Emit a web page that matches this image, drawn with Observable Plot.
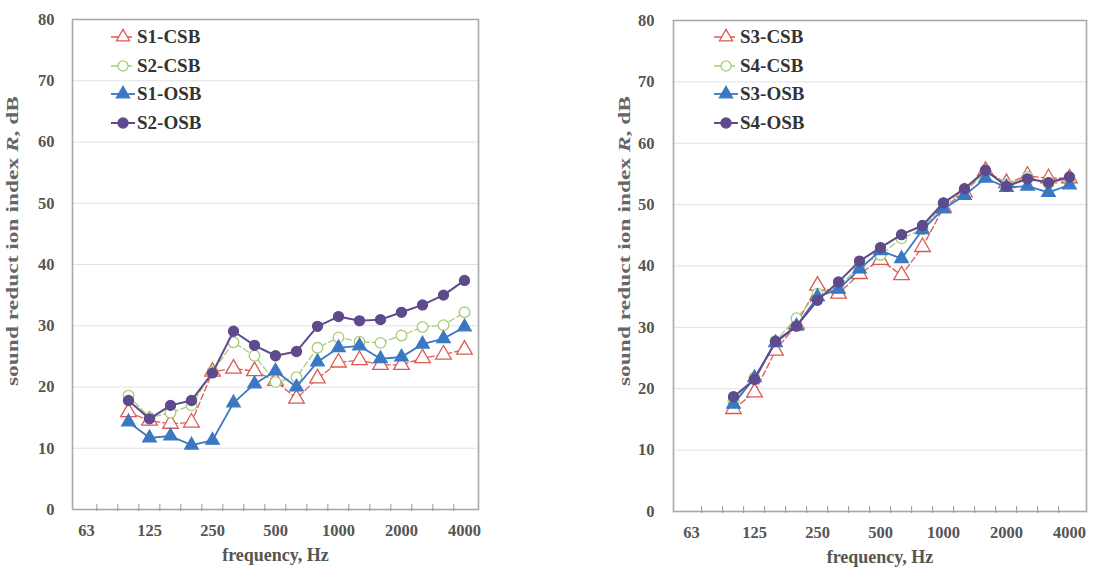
<!DOCTYPE html>
<html>
<head>
<meta charset="utf-8">
<script src="https://cdn.jsdelivr.net/npm/d3@7"></script>
<script src="https://cdn.jsdelivr.net/npm/@observablehq/plot@0.6"></script>
<style>
  html, body { margin: 0; padding: 0; background: #fff; }
  #wrap { position: relative; width: 1096px; height: 570px; overflow: hidden; background: #fff; }
  .panel { position: absolute; top: 0; width: 548px; height: 570px; }
  .legend { position: absolute; font-family: "Liberation Serif", serif; font-weight: bold; font-size: 19px; color: #333; }
  .legend .row { position: absolute; left: 0; height: 28px; display: flex; align-items: center; white-space: nowrap; }
  .legend svg { display: block; margin-right: 1px; }
</style>
</head>
<body>
<div id="wrap">
  <div class="panel" id="left" style="left:0"></div>
  <div class="panel" id="right" style="left:548px"></div>
</div>
<script>
// ---- data ----
const allFreqs = ["63","80","100","125","160","200","250","315","400","500","630","800","1000","1250","1600","2000","2500","3150","4000"];
const tickFreqs = ["63","125","250","500","1000","2000","4000"];
const dataFreqs = ["100","125","160","200","250","315","400","500","630","800","1000","1250","1600","2000","2500","3150","4000"];
const yTicks = [0, 10, 20, 30, 40, 50, 60, 70, 80];

const s1csb = [15.9, 14.5, 14.0, 14.2, 22.5, 23.0, 22.6, 21.0, 18.1, 21.4, 24.0, 24.4, 23.6, 23.6, 24.7, 25.3, 26.1];
const s2csb = [18.6, 15.0, 15.8, 17.0, 22.5, 27.3, 25.1, 20.8, 21.6, 26.4, 28.1, 27.4, 27.2, 28.4, 29.8, 30.1, 32.2];
const s1osb = [14.3, 11.7, 12.0, 10.5, 11.3, 17.4, 20.5, 22.6, 20.0, 24.1, 26.4, 26.7, 24.6, 24.9, 27.0, 27.9, 29.8];
const s2osb = [17.8, 14.8, 17.0, 17.8, 22.3, 29.1, 26.8, 25.1, 25.8, 29.9, 31.5, 30.8, 31.0, 32.2, 33.4, 35.0, 37.4];

const s3csb = [16.7, 19.4, 26.2, 30.5, 36.8, 35.5, 38.7, 41.0, 38.5, 43.1, 49.5, 52.0, 55.5, 53.5, 54.7, 54.3, 54.3];
const s4csb = [18.0, 21.8, 27.8, 31.5, 35.5, 36.5, 40.0, 41.8, 44.5, 46.0, 50.0, 52.3, 55.3, 53.3, 54.5, 53.5, 54.2];
const s3osb = [17.5, 21.8, 27.5, 30.2, 35.0, 36.2, 39.5, 42.5, 41.2, 45.9, 49.3, 51.5, 54.3, 52.8, 53.0, 52.0, 53.2];
const s4osb = [18.7, 21.5, 27.7, 30.2, 34.4, 37.4, 40.8, 43.0, 45.1, 46.6, 50.3, 52.6, 55.6, 53.0, 54.2, 53.6, 54.5];

const leftNames = ["S1-CSB", "S2-CSB", "S1-OSB", "S2-OSB"];
const rightNames = ["S3-CSB", "S4-CSB", "S3-OSB", "S4-OSB"];

// ---- styles ----
const styles = [
  {color: "#dc5a52", symbol: "triangle", open: true, dash: "6,3", width: 1.3, r: 5.8},
  {color: "#a8cc78", symbol: "circle", open: true, dash: "6,3", width: 1.3, r: 5.3},
  {color: "#3b78c2", symbol: "triangle", open: false, dash: null, width: 1.8, r: 5},
  {color: "#5e4a8c", symbol: "circle", open: false, dash: null, width: 2, r: 5}
];

function rows(values) { return dataFreqs.map((f, i) => ({f, v: values[i]})); }

function panel(el, seriesList, names, m, legendPos, yTitleX) {
  const W = 548, H = 570;
  const frameW = W - m.left - m.right;
  const frameH = H - m.top - m.bottom;
  const step = frameW / allFreqs.length;
  const marks = [
    Plot.gridY(yTicks.slice(1, -1), {stroke: "#e2e2e2", strokeOpacity: 1, strokeWidth: 1}),
    Plot.frame({stroke: "#a8a8a8", strokeWidth: 1.6}),
    Plot.tickX(allFreqs.slice(1), {x: d => d, dx: -step / 2, insetTop: frameH - 5, insetBottom: -2, stroke: "#999", strokeWidth: 1}),
    Plot.axisX({ticks: tickFreqs, tickSize: 0, tickPadding: 15, fontSize: 16.5, fontWeight: "bold", fill: "#555", label: null}),
    Plot.axisY({ticks: yTicks, tickSize: 0, tickPadding: m.left === 72 ? 18 : 19, fontSize: 16.5, fontWeight: "bold", fill: "#555", label: null}),
    Plot.text(["frequency, Hz"], {frameAnchor: "bottom", dy: 51, fontSize: 18, fontWeight: "bold", fill: "#555"})
  ];
  seriesList.forEach((vals, i) => {
    const s = styles[i];
    const data = rows(vals);
    marks.push(Plot.line(data, {x: "f", y: "v", stroke: s.color, strokeWidth: s.width, strokeDasharray: s.dash}));
    marks.push(Plot.dot(data, {x: "f", y: "v", symbol: s.symbol, r: s.r,
      fill: s.open ? "white" : s.color, stroke: s.color, strokeWidth: 1.3}));
  });
  const chart = Plot.plot({
    width: W, height: H,
    marginLeft: m.left, marginRight: m.right, marginTop: m.top, marginBottom: m.bottom,
    style: {fontFamily: "'Liberation Serif', serif", fontWeight: "bold", background: "white", overflow: "visible"},
    x: {type: "point", domain: allFreqs, padding: 0.5, axis: null},
    y: {domain: [0, 80], axis: null},
    marks
  });
  // y-axis title with italic R
  const t = d3.select(chart).append("text")
    .attr("transform", `translate(${yTitleX},241) rotate(-90)`)
    .attr("text-anchor", "middle")
    .attr("dominant-baseline", "middle")
    .attr("font-size", 16)
    .attr("font-weight", "bold")
    .attr("fill", "#666")
    .attr("textLength", 290)
    .attr("lengthAdjust", "spacingAndGlyphs");
  t.append("tspan").text("sound reduct ion index ");
  t.append("tspan").attr("font-style", "italic").text("R");
  t.append("tspan").text(", dB");
  el.appendChild(chart);

  // legend overlay
  const lg = document.createElement("div");
  lg.className = "legend";
  lg.style.left = legendPos.x + "px";
  lg.style.top = legendPos.y + "px";
  names.forEach((name, i) => {
    const s = styles[i];
    const row = document.createElement("div");
    row.className = "row";
    row.style.top = (i * 28.7) + "px";
    const sw = d3.create("svg").attr("width", 25).attr("height", 20);
    sw.append("line").attr("x1", 0).attr("x2", 24).attr("y1", 10).attr("y2", 10)
      .attr("stroke", s.color).attr("stroke-width", s.width)
      .attr("stroke-dasharray", s.dash ? "9,3" : null);
    const sym = s.symbol === "triangle" ? d3.symbolTriangle : d3.symbolCircle;
    const size = s.symbol === "triangle" ? 75 : 80;
    sw.append("path").attr("d", d3.symbol(sym, size)()).attr("transform", "translate(12,10)")
      .attr("fill", s.open ? "white" : s.color).attr("stroke", s.color).attr("stroke-width", 1.3);
    row.appendChild(sw.node());
    const span = document.createElement("span");
    span.textContent = name;
    row.appendChild(span);
    lg.appendChild(row);
  });
  el.appendChild(lg);
}

panel(document.getElementById("left"), [s1csb, s2csb, s1osb, s2osb], leftNames,
  {left: 72, right: 70, top: 19, bottom: 61}, {x: 111, y: 23}, 14);
panel(document.getElementById("right"), [s3csb, s4csb, s3osb, s4osb], rightNames,
  {left: 125, right: 10, top: 20, bottom: 59}, {x: 166, y: 23}, 78);
</script>
</body>
</html>
